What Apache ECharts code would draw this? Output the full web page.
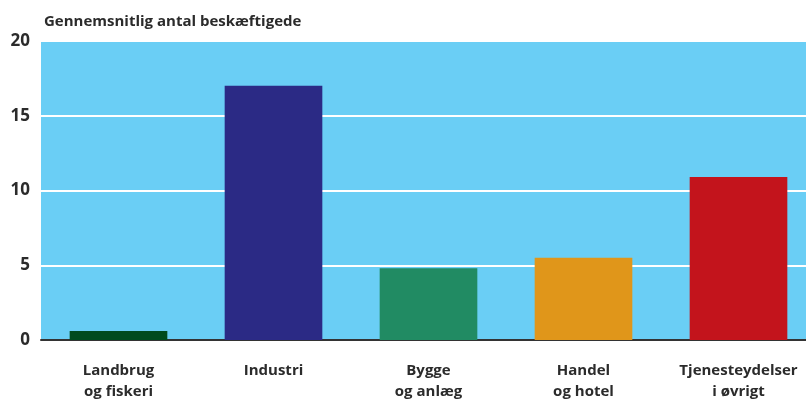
<!DOCTYPE html>
<html><head><meta charset="utf-8">
<script src="https://cdn.jsdelivr.net/npm/echarts@6/dist/echarts.min.js"></script>
<style>html,body{margin:0;padding:0;background:#fff}#c{width:806px;height:403px}</style>
</head><body><div id="c"></div>
<script>
const categories = ["Landbrug\nog fiskeri", "Industri", "Bygge\nog anlæg", "Handel\nog hotel", "Tjenesteydelser\ni øvrigt"];
const values = [0.6, 17.0, 4.8, 5.5, 10.9];
const colors = ["#004B1E", "#2B2A85", "#218B63", "#E0961A", "#C3141C"];
const yTicks = [0, 5, 10, 15, 20];
const title = "Gennemsnitlig antal beskæftigede";
const font = "'Open Sans',sans-serif";

const chart = echarts.init(document.getElementById('c'));
chart.setOption({
  animation: false,
  title: { text: title, left: 39, top: 9, textStyle: { fontFamily: font, fontSize: 15, fontWeight: 'bold', color: '#2b2b2b' } },
  grid: { left: 41, width: 775, top: 41, bottom: 63, backgroundColor: '#6ACEF5', show: true, borderWidth: 0, outerBoundsMode: 'none', containLabel: false },
  xAxis: {
    type: 'category', data: categories,
    axisLine: { lineStyle: { color: '#333', width: 2 } },
    axisTick: { show: false },
    axisLabel: { interval: 0, fontFamily: font, fontSize: 15, fontWeight: 'bold', color: '#2b2b2b', margin: 20, lineHeight: 21 }
  },
  yAxis: {
    type: 'value', min: yTicks[0], max: yTicks[yTicks.length - 1], interval: 5,
    axisLine: { show: false }, axisTick: { show: false },
    splitLine: { lineStyle: { color: '#ffffff', width: 2 } },
    axisLabel: { fontFamily: font, fontSize: 17, fontWeight: 'bold', color: '#2b2b2b', margin: 11 }
  },
  series: [{
    type: 'bar', barCategoryGap: '37%',
    data: values.map((v, i) => ({ value: v, itemStyle: { color: colors[i] } }))
  }]
});
</script></body></html>
